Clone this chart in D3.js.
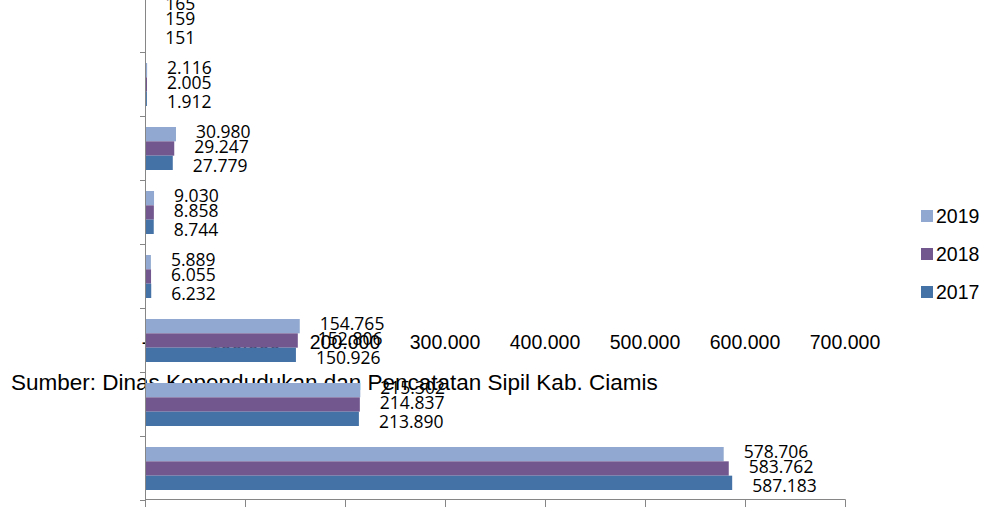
<!DOCTYPE html>
<html>
<head>
<meta charset="utf-8">
<script src="https://cdn.jsdelivr.net/npm/d3@7"></script>
<style>
  html, body { margin: 0; padding: 0; background: #fff; }
  svg { display: block; }
</style>
</head>
<body>
<svg id="chart" width="992" height="507"></svg>
<script>
// ---- data ----
const categories = ["Kategori 1", "Kategori 2", "Kategori 3", "Kategori 4", "Kategori 5", "Kategori 6", "Kategori 7", "Kategori 8"];
const seriesNames = ["2019", "2018", "2017"];
const values2019 = [165, 2116, 30980, 9030, 5889, 154765, 215302, 578706];
const values2018 = [159, 2005, 29247, 8858, 6055, 152806, 214837, 583762];
const values2017 = [151, 1912, 27779, 8744, 6232, 150926, 213890, 587183];
const xTickValues = [0, 100000, 200000, 300000, 400000, 500000, 600000, 700000];
const sourceText = "Sumber: Dinas Kependudukan dan Pencatatan Sipil Kab. Ciamis";
const colors = { "2019": "#91A9D0", "2018": "#72578F", "2017": "#4472A6" };

const seriesValues = { "2019": values2019, "2018": values2018, "2017": values2017 };

const svg = d3.select("#chart");
const fmt = v => v === 0 ? "-" : d3.format(",")(v).replace(/,/g, ".");

const x = d3.scaleLinear().domain([0, 700000]).range([145, 845]);
const y = d3.scaleBand().domain(categories).range([-12, 500]).padding(0);
const y1 = d3.scaleBand().domain(seriesNames).range([11, 54]).padding(0);

// misplaced axis tick labels (drawn under bars)
svg.append("g").selectAll("text").data(xTickValues).join("text")
  .attr("x", d => x(d))
  .attr("y", 349)
  .attr("text-anchor", "middle")
  .attr("font-family", "Liberation Sans, Arial, sans-serif")
  .attr("font-size", 19.5)
  .attr("fill", "#000")
  .text(d => fmt(d));

// source text (under bars)
const src = svg.append("text")
  .attr("x", 11)
  .attr("y", 390)
  .attr("font-family", "Liberation Sans, Arial, sans-serif")
  .attr("font-size", 22.5)
  .attr("fill", "#000")
  .text(sourceText);

// bars
const groups = svg.append("g").selectAll("g").data(categories).join("g")
  .attr("transform", d => `translate(0,${y(d)})`);

groups.selectAll("rect").data((c, i) => seriesNames.map(s => ({ s, v: seriesValues[s][i] })))
  .join("rect")
  .attr("x", x(0))
  .attr("y", d => y1(d.s))
  .attr("width", d => x(d.v) - x(0))
  .attr("height", y1.bandwidth())
  .attr("fill", d => colors[d.s]);

// data labels
const labelDy = { "2019": -2, "2018": -2, "2017": 3 };
groups.selectAll("text").data((c, i) => seriesNames.map(s => ({ s, v: seriesValues[s][i] })))
  .join("text")
  .attr("x", d => x(d.v) + 20)
  .attr("y", d => y1(d.s) + y1.bandwidth() / 2 + labelDy[d.s] + 6)
  .attr("font-family", "Open Sans, sans-serif")
  .attr("font-size", 17.5)
  .attr("fill", "#000")
  .text(d => fmt(d.v));

// axes
const axisColor = "#868686";
svg.append("line").attr("x1", 145.5).attr("x2", 145.5).attr("y1", -12).attr("y2", 500)
  .attr("stroke", axisColor).attr("stroke-width", 1);
svg.append("g").selectAll("line").data(categories).join("line")
  .attr("x1", 140).attr("x2", 145)
  .attr("y1", d => y(d) + y.bandwidth() + 0.5)
  .attr("y2", d => y(d) + y.bandwidth() + 0.5)
  .attr("stroke", axisColor);
svg.append("line").attr("x1", 145).attr("x2", 845.5).attr("y1", 499.5).attr("y2", 499.5)
  .attr("stroke", axisColor);
svg.append("g").selectAll("line").data(xTickValues).join("line")
  .attr("x1", d => Math.round(x(d)) + 0.5).attr("x2", d => Math.round(x(d)) + 0.5)
  .attr("y1", 499.5).attr("y2", 507)
  .attr("stroke", axisColor);

// legend
const legend = svg.append("g").selectAll("g").data(seriesNames).join("g")
  .attr("transform", (d, i) => `translate(921,${216 + i * 38})`);
legend.append("rect").attr("x", 0).attr("y", -6).attr("width", 12).attr("height", 12)
  .attr("fill", d => colors[d]);
legend.append("text").attr("x", 15).attr("y", 7)
  .attr("font-family", "Liberation Sans, Arial, sans-serif")
  .attr("font-size", 19.5)
  .attr("fill", "#000")
  .text(d => d);
</script>
</body>
</html>
